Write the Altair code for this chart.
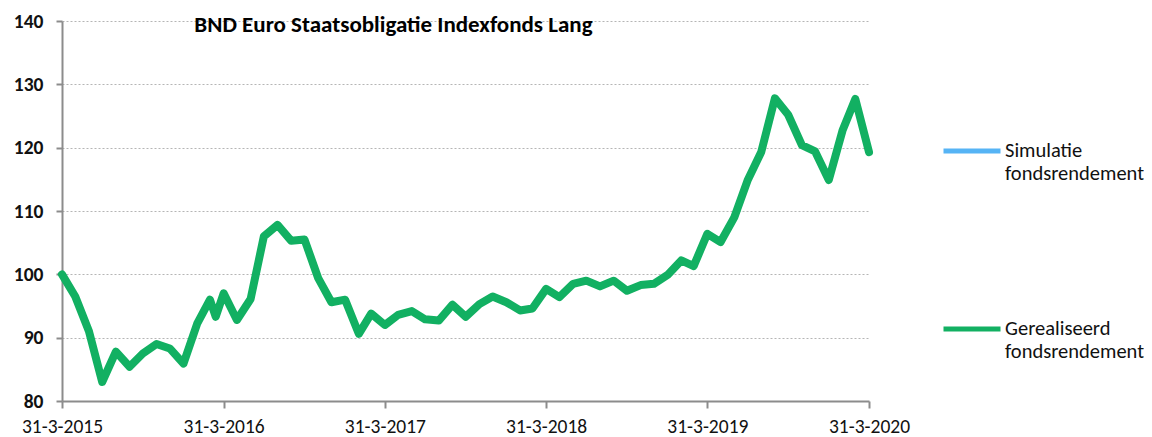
import altair as alt
import pandas as pd

TITLE = "BND Euro Staatsobligatie Indexfonds Lang"
SERIES = ["Simulatie fondsrendement", "Gerealiseerd fondsrendement"]
COLORS = ["#56b4f5", "#12b062"]

dates = [
    "2015-03-31", "2015-04-30", "2015-05-31", "2015-06-30", "2015-07-31", "2015-08-31",
    "2015-09-30", "2015-10-31", "2015-11-30", "2015-12-31", "2016-01-31", "2016-02-29",
    "2016-03-13", "2016-03-31", "2016-04-30", "2016-05-31", "2016-06-30", "2016-07-31",
    "2016-08-31", "2016-09-30", "2016-10-31", "2016-11-30", "2016-12-31", "2017-01-31",
    "2017-02-28", "2017-03-31", "2017-04-30", "2017-05-31", "2017-06-30", "2017-07-31",
    "2017-08-31", "2017-09-30", "2017-10-31", "2017-11-30", "2017-12-31", "2018-01-31",
    "2018-02-28", "2018-03-31", "2018-04-30", "2018-05-31", "2018-06-30", "2018-07-31",
    "2018-08-31", "2018-09-30", "2018-10-31", "2018-11-30", "2018-12-31", "2019-01-31",
    "2019-02-28", "2019-03-31", "2019-04-30", "2019-05-31", "2019-06-30", "2019-07-31",
    "2019-08-31", "2019-09-30", "2019-10-31", "2019-11-30", "2019-12-31", "2020-01-31",
    "2020-02-29", "2020-03-31",
]
gerealiseerd = [
    100.0, 96.5, 91.0, 83.0, 87.8, 85.4,
    87.5, 89.0, 88.3, 85.9, 92.2, 96.0,
    93.3, 97.0, 92.8, 96.1, 106.0, 107.8,
    105.3, 105.5, 99.4, 95.6, 96.0, 90.6,
    93.8, 92.0, 93.6, 94.2, 92.9, 92.7,
    95.2, 93.3, 95.3, 96.5, 95.6, 94.3,
    94.6, 97.7, 96.4, 98.5, 99.0, 98.1,
    99.0, 97.4, 98.3, 98.5, 99.9, 102.2,
    101.3, 106.4, 105.1, 109.0, 114.8, 119.3,
    127.8, 125.2, 120.4, 119.4, 114.9, 122.7,
    127.7, 119.3,
]
tick_years = [2015, 2016, 2017, 2018, 2019, 2020]
y_ticks = [80, 90, 100, 110, 120, 130, 140]

df = pd.DataFrame({"date": dates, "value": gerealiseerd, "series": SERIES[1]})

FONT = "Calibri, Carlito, Lato, sans-serif"

chart = (
    alt.Chart(df)
    .mark_line(strokeWidth=8, strokeJoin="round", strokeCap="round")
    .encode(
        x=alt.X(
            "date:T",
            scale=alt.Scale(
                type="utc",
                domain=[alt.DateTime(year=2015, month=3, date=31, utc=True),
                        alt.DateTime(year=2020, month=3, date=31, utc=True)],
            ),
            axis=alt.Axis(
                title=None,
                values=[alt.DateTime(year=y, month=3, date=31, utc=True) for y in tick_years],
                labelExpr="utcFormat(datum.value, '%-d-%-m-%Y')",
                grid=False,
                tickSize=7,
                labelPadding=9,
                labelFontSize=19.5,
                labelFont=FONT,
                labelColor="#111111",
                domainColor="#8c8c8c",
                tickColor="#8c8c8c",
                domainWidth=2,
                tickWidth=2,
                labelFlush=False,
            ),
        ),
        y=alt.Y(
            "value:Q",
            scale=alt.Scale(domain=[80, 140], nice=False, zero=False),
            axis=alt.Axis(
                title=None,
                values=y_ticks,
                tickSize=6,
                labelPadding=13,
                labelFontSize=19.5,
                labelFontWeight="bold",
                labelFont=FONT,
                labelColor="#111111",
                domainColor="#8c8c8c",
                tickColor="#8c8c8c",
                domainWidth=2,
                tickWidth=2,
                gridColor="#b5b5b5",
                gridDash=[2, 2],
                gridWidth=1,
            ),
        ),
        color=alt.Color(
            "series:N",
            scale=alt.Scale(domain=SERIES, range=COLORS),
            legend=alt.Legend(
                title=None,
                orient="none",
                legendX=879,
                legendY=99,
                symbolType="stroke",
                symbolSize=3249,
                symbolStrokeWidth=5,
                labelFont=FONT,
                labelFontSize=20.5,
                labelColor="#111111",
                labelLimit=0,
                labelOffset=2,
                labelExpr="split(datum.label, ' ')",
                rowPadding=114,
            ),
        ),
    )
    .properties(
        width=807,
        height=380,
        title=alt.TitleParams(
            TITLE, anchor="start", dx=181, dy=44, offset=0, fontSize=23, font=FONT,
            fontWeight="bold", color="#000000", baseline="alphabetic",
        ),
        autosize=alt.AutoSizeParams(type="none"),
        padding={"left": 54, "top": 13, "right": 275, "bottom": 40},
    )
    .configure_view(stroke=None)
)

chart.save("out.html", embed_options={"renderer": "svg", "actions": False})
